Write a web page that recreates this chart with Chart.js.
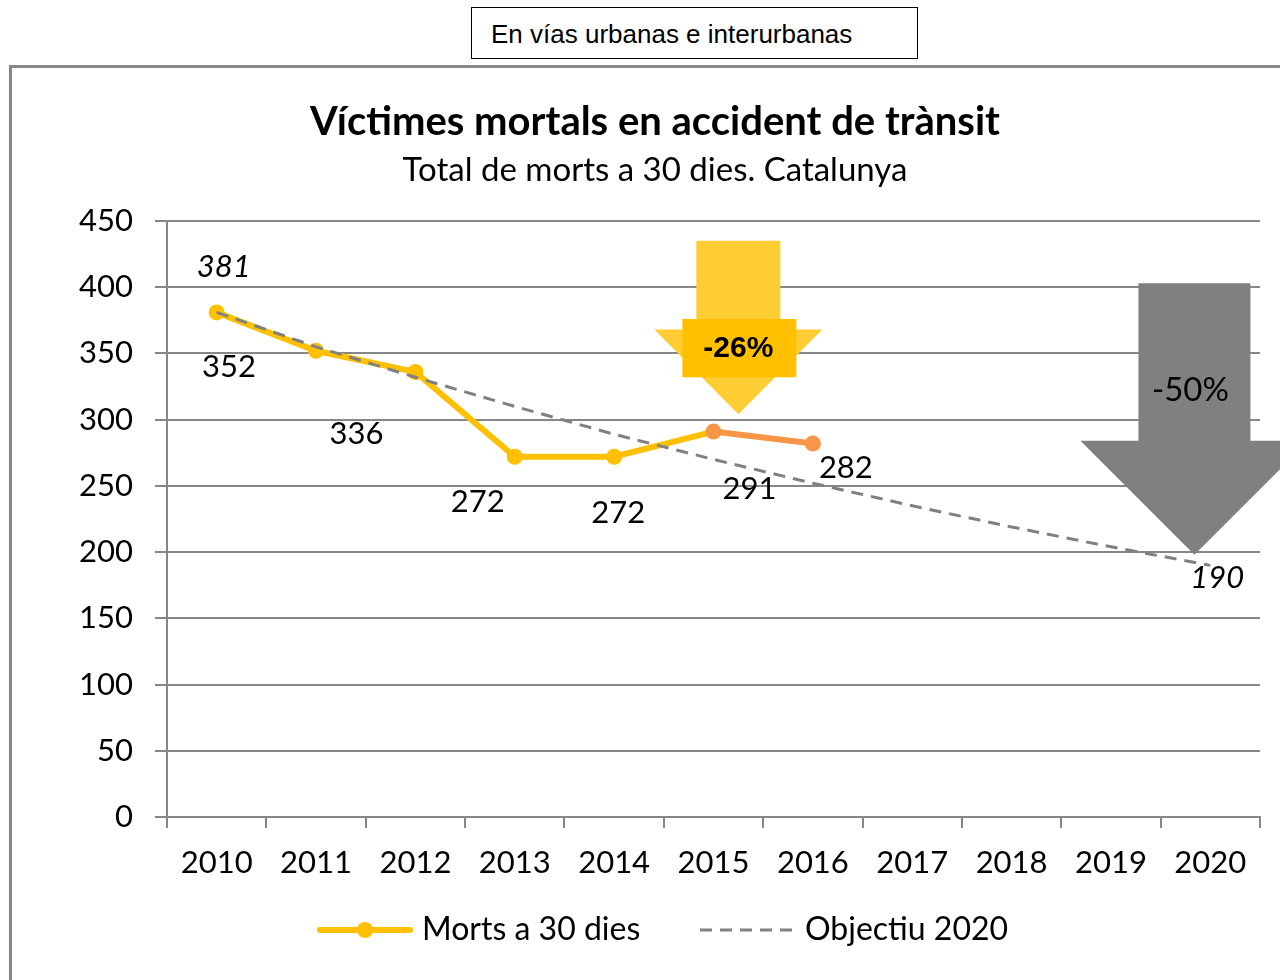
<!DOCTYPE html>
<html>
<head>
<meta charset="utf-8">
<script src="https://cdn.jsdelivr.net/npm/chart.js@4.4.1/dist/chart.umd.min.js"></script>
<style>
html, body { margin: 0; padding: 0; width: 1280px; height: 980px; overflow: hidden; background: #fff; }
#frame { position: absolute; left: 9px; top: 65px; width: 1400px; height: 1000px; border: 3px solid #878787; box-sizing: border-box; }
#tag { position: absolute; left: 471px; top: 7px; width: 447px; height: 52px; border: 1px solid #000; box-sizing: border-box;
       font: 26px "Liberation Sans", Arial, sans-serif; padding-left: 19px; line-height: 52px; color: #000; }
#wrap { position: absolute; left: 0; top: 0; width: 1280px; height: 980px; }
</style>
</head>
<body>
<div id="frame"></div>
<div id="tag">En vías urbanas e interurbanas</div>
<div id="wrap"><canvas id="chart"></canvas></div>
<script>
const years = ['2010', '2011', '2012', '2013', '2014', '2015', '2016', '2017', '2018', '2019', '2020'];
const morts = [381, 352, 336, 272, 272, 291, 282, null, null, null, null];
const objectiu = [381, 355, 332, 310, 289, 270, 252, 235, 219, 204, 190];
const yMin = 0;
const yMax = 450;
const yStep = 50;

const FONT = 'Lato, "Open Sans", sans-serif';
const YELLOW = '#FFC000';
const ORANGE = '#F79646';
const GREY = '#808080';

// where each value label sits, relative to its point (Excel left them scattered)
const mortsLabelOffsets = [[7, -45], [-87, 16], [-59, 62], [-37, 45], [4, 56], [36, 57], [33, 24]];

const decorPlugin = {
    id: 'decor',
    afterDraw(chart) {
        const ctx = chart.ctx;
        ctx.save();
        ctx.fillStyle = '#000';
        ctx.textAlign = 'center';
        ctx.textBaseline = 'middle';

        // titles
        ctx.font = 'bold 40px ' + FONT;
        ctx.fillText('Víctimes mortals en accident de trànsit', 655, 122);
        ctx.font = '33px ' + FONT;
        ctx.fillText('Total de morts a 30 dies. Catalunya', 655, 170);

        // value labels
        const m = chart.getDatasetMeta(0);
        morts.forEach((v, i) => {
            if (v === null) return;
            const p = m.data[i];
            const off = mortsLabelOffsets[i];
            ctx.font = (i === 0 ? 'italic ' : '') + '31px ' + FONT;
            ctx.fillText(String(v), p.x + off[0], p.y + off[1]);
        });
        const o = chart.getDatasetMeta(1);
        const last = objectiu.length - 1;
        ctx.font = 'italic 31px ' + FONT;
        ctx.fillText(String(objectiu[last]), o.data[last].x + 7, o.data[last].y + 13);

        // legend
        const ly = 930;
        ctx.strokeStyle = YELLOW;
        ctx.lineWidth = 6;
        ctx.lineCap = 'round';
        ctx.beginPath(); ctx.moveTo(320, ly); ctx.lineTo(410, ly); ctx.stroke();
        ctx.fillStyle = YELLOW;
        ctx.beginPath(); ctx.arc(365, ly, 8, 0, Math.PI * 2); ctx.fill();
        ctx.lineCap = 'butt';
        ctx.strokeStyle = GREY;
        ctx.lineWidth = 3;
        ctx.setLineDash([12, 8]);
        ctx.beginPath(); ctx.moveTo(700, ly); ctx.lineTo(792, ly); ctx.stroke();
        ctx.setLineDash([]);
        ctx.fillStyle = '#000';
        ctx.textAlign = 'left';
        ctx.font = '32px ' + FONT;
        ctx.fillText('Morts a 30 dies', 422, ly);
        ctx.fillText('Objectiu 2020', 805, ly);
        ctx.restore();
    }
};

function downArrow(ctx, cx, top, headTop, tip, shaftHalf, headHalf, color) {
    ctx.fillStyle = color;
    ctx.beginPath();
    ctx.moveTo(cx - shaftHalf, top);
    ctx.lineTo(cx + shaftHalf, top);
    ctx.lineTo(cx + shaftHalf, headTop);
    ctx.lineTo(cx + headHalf, headTop);
    ctx.lineTo(cx, tip);
    ctx.lineTo(cx - headHalf, headTop);
    ctx.lineTo(cx - shaftHalf, headTop);
    ctx.closePath();
    ctx.fill();
}

const arrowPlugin = {
    id: 'arrows',
    afterDatasetsDraw(chart) {
        const ctx = chart.ctx;
        const xs = chart.scales.x, ys = chart.scales.y;
        ctx.save();

        // -26% arrow, between 2015 and 2016
        const ax = xs.getPixelForValue(5.25);
        downArrow(ctx, ax, ys.getPixelForValue(435), ys.getPixelForValue(368), ys.getPixelForValue(304), 42, 84, '#FECC33');
        ctx.fillStyle = '#FFC000';
        const bTop = ys.getPixelForValue(376), bBot = ys.getPixelForValue(332);
        ctx.fillRect(ax - 56, bTop, 114, bBot - bTop);
        ctx.fillStyle = '#000';
        ctx.font = 'bold 30px "Liberation Sans", Arial, sans-serif';
        ctx.textAlign = 'center';
        ctx.textBaseline = 'middle';
        ctx.fillText('-26%', ax, (bTop + bBot) / 2 + 1);

        // -50% arrow, pointing at the 2020 target
        const gx = xs.getPixelForValue(9.84);
        downArrow(ctx, gx, ys.getPixelForValue(403), ys.getPixelForValue(284), ys.getPixelForValue(198), 56, 114, GREY);
        ctx.fillStyle = '#000';
        ctx.font = '33px ' + FONT;
        ctx.fillText('-50%', gx - 4, ys.getPixelForValue(322));
        ctx.restore();
    }
};

new Chart(document.getElementById('chart'), {
    type: 'line',
    data: {
        labels: years,
        datasets: [{
            label: 'Morts a 30 dies',
            data: morts,
            borderColor: YELLOW,
            borderWidth: 6,
            pointRadius: 8,
            pointBorderWidth: 0,
            pointBackgroundColor: morts.map((v, i) => i >= 5 ? ORANGE : YELLOW),
            pointBorderColor: morts.map((v, i) => i >= 5 ? ORANGE : YELLOW),
            segment: {
                borderColor: c => c.p0DataIndex >= 5 ? ORANGE : YELLOW
            },
            tension: 0,
            order: 1
        }, {
            label: 'Objectiu 2020',
            data: objectiu,
            borderColor: GREY,
            borderWidth: 3,
            borderDash: [12, 8],
            pointRadius: 0,
            tension: 0,
            order: 0
        }]
    },
    options: {
        responsive: true,
        maintainAspectRatio: false,
        animation: false,
        events: [],
        layout: { padding: { left: 30, right: 20, top: 221, bottom: 103 } },
        plugins: {
            legend: { display: false },
            title: { display: false },
            tooltip: { enabled: false }
        },
        scales: {
            x: {
                offset: true,
                grid: { display: true, drawOnChartArea: false, offset: true, tickLength: 11, color: '#878787', lineWidth: 2 },
                border: { display: true, color: '#878787', width: 2 },
                ticks: { color: '#000', font: { family: FONT, size: 31 }, padding: 16, maxRotation: 0, autoSkip: false },
                afterFit: s => { s.height = 60; }
            },
            y: {
                min: yMin,
                max: yMax,
                grid: { color: '#878787', lineWidth: 2, tickLength: 12 },
                border: { display: true, color: '#878787', width: 2 },
                ticks: { stepSize: yStep, color: '#000', font: { family: FONT, size: 31 }, padding: 22 },
                afterFit: s => { s.width = 137; }
            }
        }
    },
    plugins: [arrowPlugin, decorPlugin]
});
</script>
</body>
</html>
